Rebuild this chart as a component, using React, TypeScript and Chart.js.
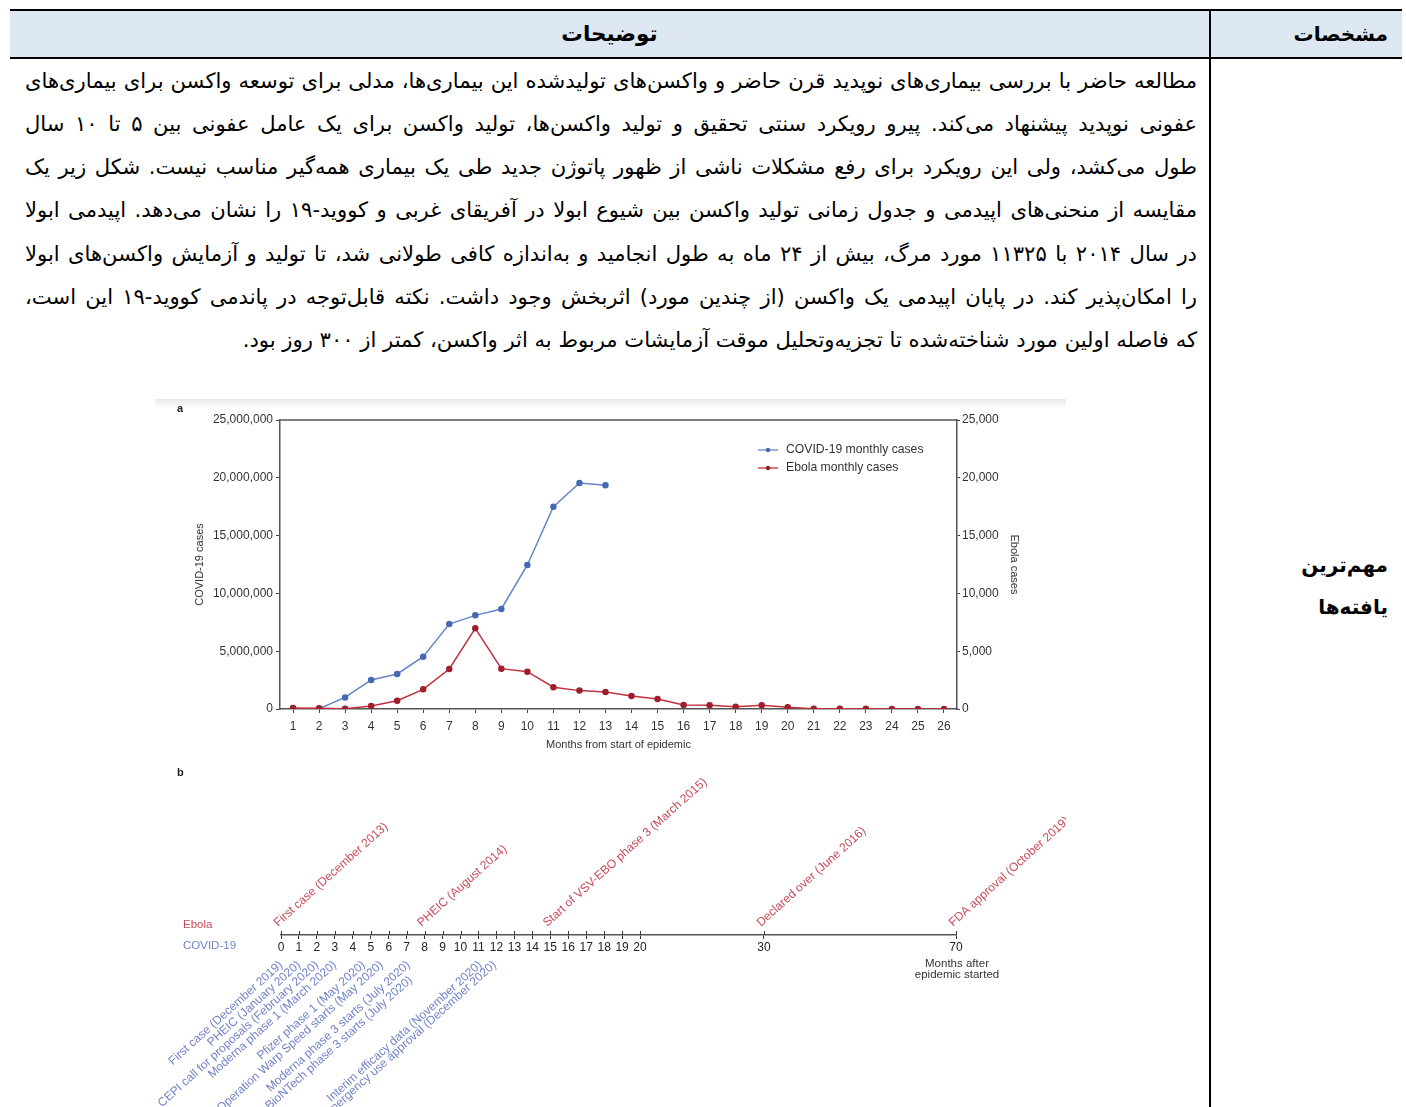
import React, { useEffect, useRef } from 'react';
import { Chart, registerables, LinearScale } from 'chart.js';

// ---------- Panel a: monthly cases ----------
const MONTH_LABELS = ['1', '2', '3', '4', '5', '6', '7', '8', '9', '10', '11', '12', '13', '14', '15', '16', '17', '18', '19', '20', '21', '22', '23', '24', '25', '26'];
const COVID_MONTHLY = [30000, 20000, 1000000, 2510000, 3030000, 4520000, 7350000, 8100000, 8650000, 12460000, 17500000, 19550000, 19350000];
const EBOLA_MONTHLY = [80, 60, 30, 260, 720, 1700, 3460, 6980, 3490, 3230, 1880, 1590, 1470, 1125, 865, 346, 330, 200, 320, 150, 30, 20, 15, 10, 10, 5];
const COVID_TICKS_MAX = 25000000;
const EBOLA_TICKS_MAX = 25000;

// ---------- Panel b: timeline of events (months after epidemic start) ----------
const TIMELINE_TICKS = [0, 1, 2, 3, 4, 5, 6, 7, 8, 9, 10, 11, 12, 13, 14, 15, 16, 17, 18, 19, 20, 30, 70];
const EBOLA_EVENTS = ['First case (December 2013)', 'PHEIC (August 2014)', 'Start of VSV-EBO phase 3 (March 2015)', 'Declared over (June 2016)', 'FDA approval (October 2019)'];
const EBOLA_EVENT_MONTHS = [0, 8, 15, 30, 70];
const COVID_EVENTS = [
  'First case (December 2019)',
  'PHEIC (January 2020)',
  'CEPI call for proposals (February 2020)',
  'Moderna phase 1 (March 2020)',
  'Pfizer phase 1 (May 2020)',
  'Operation Warp Speed starts (May 2020)',
  'Moderna phase 3 starts (July 2020)',
  'Pfizer\u2013BioNTech phase 3 starts (July 2020)',
  'Interim efficacy data (November 2020)',
  'Emergency use approval (December 2020)',
];
const COVID_EVENT_MONTHS = [0, 1, 2, 3, 4.6, 5.6, 7.1, 7.1, 11.1, 11.9];
const COVID_EVENT_ROWS = [0, 0, 0, 0, 0, 0, 0, 1, 0, 0];

// Broken axis: 0-20 months get most of the room, then 20-30 and 30-70 are compressed
const SEGMENT_BREAKS = [0, 20, 30, 70];
const SEGMENT_WEIGHTS = [20, 6.9, 10.7];

// ---------- Table text ----------
const HEADER_DESC = 'توضیحات';
const HEADER_SPEC = 'مشخصات';
const ROW_TITLE = ['مهم\u200cترین', 'یافته\u200cها'];
const BODY_LINES = [
  'مطالعه حاضر با بررسی بیماری\u200cهای نوپدید قرن حاضر و واکسن\u200cهای تولیدشده این بیماری\u200cها، مدلی برای توسعه واکسن برای بیماری\u200cهای',
  'عفونی نوپدید پیشنهاد می\u200cکند. پیرو رویکرد سنتی تحقیق و تولید واکسن\u200cها، تولید واکسن برای یک عامل عفونی بین ۵ تا ۱۰ سال',
  'طول می\u200cکشد، ولی این رویکرد برای رفع مشکلات ناشی از ظهور پاتوژن جدید طی یک بیماری همه\u200cگیر مناسب نیست. شکل زیر یک',
  'مقایسه از منحنی\u200cهای اپیدمی و جدول زمانی تولید واکسن بین شیوع ابولا در آفریقای غربی و کووید-۱۹ را نشان می\u200cدهد. اپیدمی ابولا',
  'در سال ۲۰۱۴ با ۱۱۳۲۵ مورد مرگ، بیش از ۲۴ ماه به طول انجامید و به\u200cاندازه کافی طولانی شد، تا تولید و آزمایش واکسن\u200cهای ابولا',
  'را امکان\u200cپذیر کند. در پایان اپیدمی یک واکسن (از چندین مورد) اثربخش وجود داشت. نکته قابل\u200cتوجه در پاندمی کووید-۱۹ این است،',
  'که فاصله اولین مورد شناخته\u200cشده تا تجزیه\u200cوتحلیل موقت آزمایشات مربوط به اثر واکسن، کمتر از ۳۰۰ روز بود.',
];

const COVID_LINE = '#6585c6';
const COVID_POINT = '#456ab3';
const EBOLA_LINE = '#c0313c';
const EBOLA_POINT = '#9e1f2b';
const COVID_TEXT = '#7183c6';
const EBOLA_TEXT = '#c84a5a';
const AXIS = '#555555';
const TEXT = '#333333';
const FONT = '"Liberation Sans", Arial, sans-serif';
const LABEL_ANGLE = (-42 * Math.PI) / 180;

class SegmentedScale extends LinearScale {
  static id = 'segmented';
  static defaults = LinearScale.defaults;
  getPixelForValue(value: number) {
    const total = SEGMENT_WEIGHTS.reduce((s, w) => s + w, 0);
    let acc = 0;
    for (let i = 0; i < SEGMENT_WEIGHTS.length; i++) {
      const lo = SEGMENT_BREAKS[i];
      const hi = SEGMENT_BREAKS[i + 1];
      if (value <= hi || i === SEGMENT_WEIGHTS.length - 1) {
        const f = (acc + (SEGMENT_WEIGHTS[i] * (value - lo)) / (hi - lo)) / total;
        return this.getPixelForDecimal(f);
      }
      acc += SEGMENT_WEIGHTS[i];
    }
    return this.getPixelForDecimal(1);
  }
  getValueForPixel(pixel: number) {
    const total = SEGMENT_WEIGHTS.reduce((s, w) => s + w, 0);
    const f = this.getDecimalForPixel(pixel) * total;
    let acc = 0;
    for (let i = 0; i < SEGMENT_WEIGHTS.length; i++) {
      if (f <= acc + SEGMENT_WEIGHTS[i] || i === SEGMENT_WEIGHTS.length - 1) {
        const lo = SEGMENT_BREAKS[i];
        const hi = SEGMENT_BREAKS[i + 1];
        return lo + ((f - acc) / SEGMENT_WEIGHTS[i]) * (hi - lo);
      }
      acc += SEGMENT_WEIGHTS[i];
    }
    return SEGMENT_BREAKS[SEGMENT_BREAKS.length - 1];
  }
}

Chart.register(...registerables, SegmentedScale);

const fmt = (v: any) => Number(v).toLocaleString('en-US');

// top frame line and the inset legend of panel a
const casesDecor = {
  id: 'casesDecor',
  afterDraw(chart: any) {
    const { ctx, chartArea: a } = chart;
    ctx.save();
    ctx.strokeStyle = AXIS;
    ctx.lineWidth = 1.5;
    ctx.beginPath();
    ctx.moveTo(a.left - 0.75, a.top);
    ctx.lineTo(a.right + 0.75, a.top);
    ctx.stroke();
    chart.data.datasets.forEach((ds: any, i: number) => {
      const y = a.top + 30 + i * 18;
      const x0 = a.right - 199;
      ctx.strokeStyle = ds.borderColor;
      ctx.lineWidth = 1.3;
      ctx.beginPath();
      ctx.moveTo(x0, y);
      ctx.lineTo(x0 + 20, y);
      ctx.stroke();
      ctx.fillStyle = ds.pointBackgroundColor;
      ctx.beginPath();
      ctx.arc(x0 + 10, y, 2.2, 0, Math.PI * 2);
      ctx.fill();
      ctx.fillStyle = TEXT;
      ctx.font = `12.2px ${FONT}`;
      ctx.textAlign = 'left';
      ctx.textBaseline = 'middle';
      ctx.fillText(ds.label, x0 + 28, y);
    });
    ctx.restore();
  },
};

// event labels, row names and the crossing tick marks of panel b
const timelineDecor = {
  id: 'timelineDecor',
  afterDraw(chart: any) {
    const { ctx, chartArea: a, scales } = chart;
    const xs = scales.x;
    const axisY = a.bottom;
    ctx.save();
    ctx.strokeStyle = '#333';
    ctx.lineWidth = 1;
    xs.ticks.forEach((t: any) => {
      const px = Math.round(xs.getPixelForValue(t.value)) + 0.5;
      ctx.beginPath();
      ctx.moveTo(px, axisY - 4);
      ctx.lineTo(px, axisY);
      ctx.stroke();
    });

    ctx.font = `11.5px ${FONT}`;
    ctx.textBaseline = 'middle';
    ctx.textAlign = 'left';
    ctx.fillStyle = EBOLA_TEXT;
    ctx.fillText('Ebola', a.left - 98, axisY - 10);
    ctx.fillStyle = COVID_TEXT;
    ctx.fillText('COVID-19', a.left - 98, axisY + 11);

    ctx.font = `12px ${FONT}`;
    const ebolaMeta = chart.getDatasetMeta(0);
    ebolaMeta.data.forEach((el: any, i: number) => {
      const raw = chart.data.datasets[0].data[i];
      ctx.save();
      ctx.translate(el.x - 3, axisY - 8);
      ctx.rotate(LABEL_ANGLE);
      ctx.fillStyle = EBOLA_TEXT;
      ctx.textAlign = 'left';
      ctx.textBaseline = 'alphabetic';
      ctx.fillText(raw.text, 0, 0);
      ctx.restore();
    });

    const covidMeta = chart.getDatasetMeta(1);
    covidMeta.data.forEach((el: any, i: number) => {
      const raw = chart.data.datasets[1].data[i];
      ctx.save();
      ctx.translate(el.x - 4, axisY + 24);
      ctx.rotate(LABEL_ANGLE);
      ctx.fillStyle = COVID_TEXT;
      ctx.textAlign = 'right';
      ctx.textBaseline = 'top';
      ctx.fillText(raw.text, -8.5 * raw.row, 12.7 * raw.row);
      ctx.restore();
    });

    const endX = xs.getPixelForValue(SEGMENT_BREAKS[SEGMENT_BREAKS.length - 1]);
    ctx.fillStyle = TEXT;
    ctx.font = `11.5px ${FONT}`;
    ctx.textAlign = 'center';
    ctx.textBaseline = 'middle';
    ctx.fillText('Months after', endX + 1, axisY + 29);
    ctx.fillText('epidemic started', endX + 1, axisY + 40);
    ctx.restore();
  },
};

function CasesChart() {
  const ref = useRef<HTMLCanvasElement>(null);
  useEffect(() => {
    if (!ref.current) return;
    const tickFont = { family: FONT, size: 12 };
    const chart = new Chart(ref.current, {
      type: 'line',
      data: {
        labels: MONTH_LABELS,
        datasets: [
          {
            label: 'COVID-19 monthly cases',
            data: COVID_MONTHLY,
            yAxisID: 'y',
            borderColor: COVID_LINE,
            backgroundColor: COVID_LINE,
            pointBackgroundColor: COVID_POINT,
            pointBorderColor: COVID_POINT,
            pointRadius: 2.5,
            borderWidth: 1.5,
            tension: 0,
            order: 1,
          },
          {
            label: 'Ebola monthly cases',
            data: EBOLA_MONTHLY,
            yAxisID: 'y1',
            borderColor: EBOLA_LINE,
            backgroundColor: EBOLA_LINE,
            pointBackgroundColor: EBOLA_POINT,
            pointBorderColor: EBOLA_POINT,
            pointRadius: 2.5,
            borderWidth: 1.5,
            tension: 0,
            order: 0,
          },
        ],
      },
      options: {
        animation: false,
        responsive: false,
        events: [],
        layout: { padding: { top: 20, left: 0, right: 0, bottom: 0 } },
        plugins: { legend: { display: false }, tooltip: { enabled: false } },
        scales: {
          x: {
            type: 'category',
            offset: true,
            grid: { display: true, drawOnChartArea: false, drawTicks: true, tickLength: 4, color: '#444' },
            border: { display: true, color: AXIS, width: 1.5 },
            ticks: { color: TEXT, font: tickFont, padding: 6, autoSkip: false, maxRotation: 0 },
            title: { display: true, text: 'Months from start of epidemic', color: TEXT, font: { family: FONT, size: 11 }, padding: { top: 0, bottom: 8 } },
            afterFit: (s: any) => { s.height = 51; },
          },
          y: {
            position: 'left',
            min: 0,
            max: COVID_TICKS_MAX,
            grid: { display: true, drawOnChartArea: false, drawTicks: true, tickLength: 4, color: '#444' },
            border: { display: true, color: AXIS, width: 1.5 },
            ticks: { stepSize: 5000000, color: TEXT, font: tickFont, padding: 3, callback: fmt },
            title: { display: true, text: 'COVID-19 cases', color: TEXT, font: { family: FONT, size: 11 }, padding: { top: 38, bottom: 0 } },
            afterFit: (s: any) => { s.width = 125; },
          },
          y1: {
            position: 'right',
            min: 0,
            max: EBOLA_TICKS_MAX,
            grid: { display: true, drawOnChartArea: false, drawTicks: true, tickLength: 3, color: '#444' },
            border: { display: true, color: AXIS, width: 1.5 },
            ticks: { stepSize: 5000, color: TEXT, font: tickFont, padding: 2, callback: fmt },
            title: { display: true, text: 'Ebola cases', color: TEXT, font: { family: FONT, size: 11 }, padding: { top: 45, bottom: 0 } },
            afterFit: (s: any) => { s.width = 109; },
          },
        },
      },
      plugins: [casesDecor],
    } as any);
    return () => chart.destroy();
  }, []);
  return <canvas ref={ref} width={911} height={360} style={{ position: 'absolute', left: 155, top: 400, width: 911, height: 360 }} />;
}

function TimelineChart() {
  const ref = useRef<HTMLCanvasElement>(null);
  useEffect(() => {
    if (!ref.current) return;
    const chart = new Chart(ref.current, {
      type: 'scatter',
      data: {
        datasets: [
          {
            label: 'Ebola',
            data: EBOLA_EVENT_MONTHS.map((m, i) => ({ x: m, y: 1, text: EBOLA_EVENTS[i] })),
            pointRadius: 0,
            showLine: false,
          },
          {
            label: 'COVID-19',
            data: COVID_EVENT_MONTHS.map((m, i) => ({ x: m, y: -1, text: COVID_EVENTS[i], row: COVID_EVENT_ROWS[i] })),
            pointRadius: 0,
            showLine: false,
          },
        ],
      },
      options: {
        animation: false,
        responsive: false,
        events: [],
        layout: { padding: { top: 100, left: 126, right: 110, bottom: 0 } },
        plugins: { legend: { display: false }, tooltip: { enabled: false } },
        scales: {
          x: {
            type: 'segmented',
            min: SEGMENT_BREAKS[0],
            max: SEGMENT_BREAKS[SEGMENT_BREAKS.length - 1],
            afterBuildTicks: (s: any) => { s.ticks = TIMELINE_TICKS.map((v) => ({ value: v })); },
            grid: { display: true, drawOnChartArea: false, drawTicks: true, tickLength: 4, color: '#333' },
            border: { display: true, color: AXIS, width: 1.5 },
            ticks: { color: '#222', font: { family: FONT, size: 12 }, padding: 1, autoSkip: false, maxRotation: 0, callback: (v: any) => String(v) },
            afterFit: (s: any) => { s.height = 172; },
          },
          y: { display: false, min: -2, max: 2 },
        },
      },
      plugins: [timelineDecor],
    } as any);
    return () => chart.destroy();
  }, []);
  return <canvas ref={ref} width={911} height={347} style={{ position: 'absolute', left: 155, top: 760, width: 911, height: 347 }} />;
}

export default function App() {
  const persian = '"DejaVu Sans", "Noto Sans", sans-serif';
  const lineH = 43.3;
  return (
    <div style={{ position: 'absolute', left: 0, top: 0, width: 1406, height: 1107, overflow: 'hidden', background: '#fff' }}>
      {/* header row */}
      <div style={{ position: 'absolute', left: 10, top: 10, width: 1392, height: 48, background: '#dde8f3' }} />
      <div style={{ position: 'absolute', left: 10, top: 9, width: 1392, height: 2, background: '#000' }} />
      <div style={{ position: 'absolute', left: 10, top: 57, width: 1392, height: 2, background: '#000' }} />
      <div style={{ position: 'absolute', left: 1209, top: 9, width: 2, height: 1098, background: '#000' }} />
      <div style={{ position: 'absolute', left: 10, top: 10, width: 1199, height: 48, lineHeight: '48px', textAlign: 'center', direction: 'rtl', fontFamily: persian, fontWeight: 'bold', fontSize: 21.5, color: '#000' }}>{HEADER_DESC}</div>
      <div style={{ position: 'absolute', left: 1216, top: 10, width: 172, height: 48, lineHeight: '48px', textAlign: 'right', direction: 'rtl', fontFamily: persian, fontWeight: 'bold', fontSize: 20, color: '#000' }}>{HEADER_SPEC}</div>

      {/* body text */}
      {BODY_LINES.map((line, i) => (
        <div
          key={i}
          style={{
            position: 'absolute',
            left: 25,
            top: 58.5 + i * lineH,
            width: 1172,
            height: lineH,
            lineHeight: `${lineH}px`,
            direction: 'rtl',
            textAlign: i === BODY_LINES.length - 1 ? 'right' : 'justify',
            textAlignLast: i === BODY_LINES.length - 1 ? 'right' : 'justify',
            fontFamily: persian,
            fontSize: 21.1,
            color: '#000',
            whiteSpace: 'nowrap',
          } as any}
        >
          {line}
        </div>
      ))}

      {/* row title */}
      <div style={{ position: 'absolute', left: 1216, top: 544, width: 172, lineHeight: '42px', textAlign: 'right', direction: 'rtl', fontFamily: persian, fontWeight: 'bold', fontSize: 20, color: '#000' }}>
        <div>{ROW_TITLE[0]}</div>
        <div>{ROW_TITLE[1]}</div>
      </div>

      {/* figure */}
      <div style={{ position: 'absolute', left: 155, top: 399, width: 911, height: 9, background: 'linear-gradient(#e8e8e8, #ffffff)' }} />
      <CasesChart />
      <TimelineChart />
      <div style={{ position: 'absolute', left: 177, top: 402, fontFamily: FONT, fontWeight: 'bold', fontSize: 11, color: '#222' }}>a</div>
      <div style={{ position: 'absolute', left: 177, top: 766, fontFamily: FONT, fontWeight: 'bold', fontSize: 11, color: '#222' }}>b</div>
    </div>
  );
}
